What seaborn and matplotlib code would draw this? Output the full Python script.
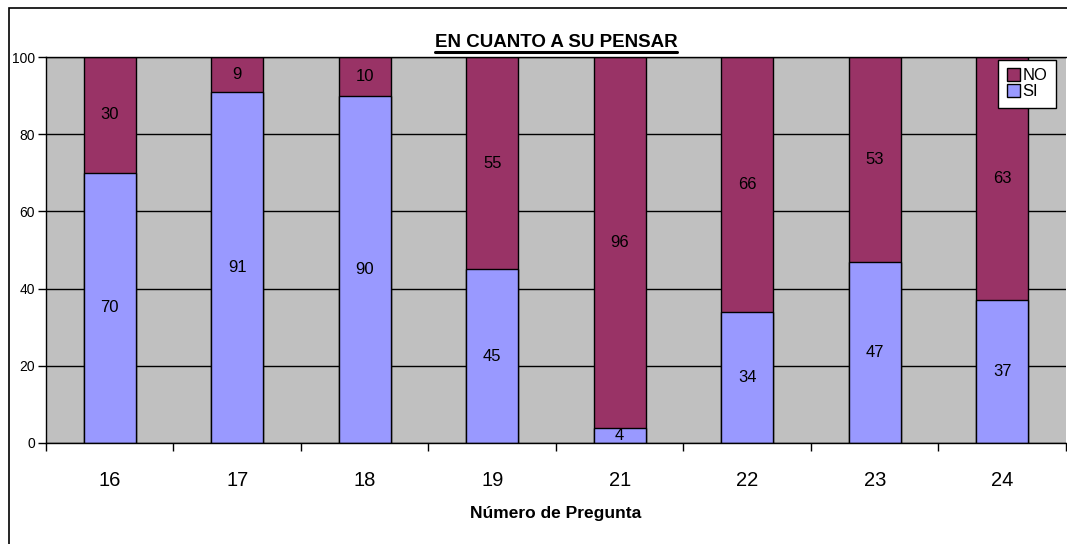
import numpy as np
import pandas as pd
import matplotlib.pyplot as plt
import matplotlib.patches as mpatches
import seaborn as sns

# datos
preguntas = ["16", "17", "18", "19", "21", "22", "23", "24"]
si = [70, 91, 90, 45, 4, 34, 47, 37]
no = [30, 9, 10, 55, 96, 66, 53, 63]

color_si = "#9999FF"
color_no = "#993366"

df = pd.DataFrame({"pregunta": preguntas, "SI": si, "NO": no})
df["total"] = df["SI"] + df["NO"]

sns.set_theme(style="white")
plt.rcParams["font.family"] = ["Liberation Sans", "DejaVu Sans"]
plt.rcParams["text.color"] = "black"
plt.rcParams["axes.labelcolor"] = "black"
plt.rcParams["xtick.color"] = "black"
plt.rcParams["ytick.color"] = "black"

fig = plt.figure(figsize=(10.67, 5.44), dpi=100)
ax = fig.add_axes([0.0431, 0.1857, 0.9559, 0.7095])
ax.set_facecolor("#C0C0C0")

# barra total en color NO, luego SI encima
sns.barplot(data=df, x="pregunta", y="total", color=color_no, width=0.41,
            edgecolor="black", linewidth=1, saturation=1, ax=ax)
sns.barplot(data=df, x="pregunta", y="SI", color=color_si, width=0.41,
            edgecolor="black", linewidth=1, saturation=1, ax=ax)

for i in range(len(preguntas)):
    ax.text(i, si[i] / 2, str(si[i]), ha="center", va="center", fontsize=12, color="black")
    ax.text(i, si[i] + no[i] / 2, str(no[i]), ha="center", va="center", fontsize=12, color="black")

ax.set_xlim(-0.5, len(preguntas) - 0.5)
ax.set_ylim(0, 100)
ax.set_yticks([0, 20, 40, 60, 80, 100])
ax.yaxis.grid(True, color="black", linewidth=1)
ax.set_axisbelow(True)

# ticks x en los limites, etiquetas en el centro
ax.set_xticks(np.arange(-0.5, len(preguntas), 1))
ax.set_xticklabels([])
ax.set_xticks(np.arange(len(preguntas)), minor=True)
ax.set_xticklabels(preguntas, minor=True, fontsize=14.5)
ax.tick_params(axis="x", which="major", direction="out", length=6, width=1, color="black", bottom=True)
ax.tick_params(axis="x", which="minor", length=0, pad=20)
ax.tick_params(axis="y", direction="out", length=6, width=1, color="black", left=True, labelsize=10, pad=2)

for s in ["left", "bottom", "top"]:
    ax.spines[s].set_color("black")
    ax.spines[s].set_linewidth(1)
ax.spines["right"].set_visible(False)

ax.set_xlabel("Número de Pregunta", fontsize=12.5, fontweight="bold", labelpad=12)
ax.set_ylabel("")

t = ax.set_title("EN CUANTO A SU PENSAR", fontsize=13.5, fontweight="bold", pad=7)

# subrayado del titulo
fig.canvas.draw()
bb = t.get_window_extent().transformed(fig.transFigure.inverted())
fig.add_artist(plt.Line2D([bb.x0, bb.x1], [bb.y0 - 0.001, bb.y0 - 0.001],
                          transform=fig.transFigure, color="black", linewidth=2.2))

handles = [mpatches.Patch(facecolor=color_no, edgecolor="black", label="NO"),
           mpatches.Patch(facecolor=color_si, edgecolor="black", label="SI")]
leg = ax.legend(handles=handles, loc="upper right", bbox_to_anchor=(0.99, 0.993),
                fontsize=12, frameon=True, fancybox=False, handlelength=0.8,
                handleheight=0.8, handletextpad=0.15, borderpad=0.5,
                labelspacing=0.05, borderaxespad=0)
leg.get_frame().set_edgecolor("black")
leg.get_frame().set_linewidth(1)
leg.get_frame().set_alpha(1)

# marco de la figura
fig.add_artist(mpatches.Rectangle((9 / 1067, -0.1), 2, 1.1 - 8 / 544,
                                  transform=fig.transFigure, fill=False,
                                  edgecolor="black", linewidth=1.2))

plt.savefig("out.png", dpi=100, facecolor="white")
